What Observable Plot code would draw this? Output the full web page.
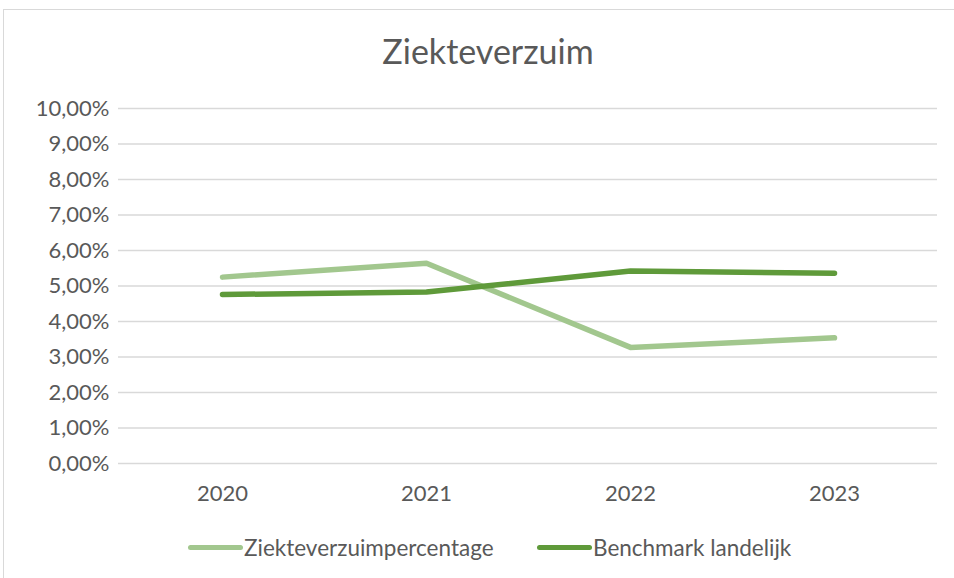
<!DOCTYPE html>
<html>
<head>
<meta charset="utf-8">
<script src="https://cdn.jsdelivr.net/npm/d3@7"></script>
<script src="https://cdn.jsdelivr.net/npm/@observablehq/plot@0.6"></script>
<style>
  html, body { margin: 0; padding: 0; background: #fff; }
  #wrap { position: relative; width: 954px; height: 578px; overflow: hidden; font-family: Lato, "Open Sans", sans-serif; }
  #frame { position: absolute; left: 3px; top: 9px; width: 1000px; height: 1000px; border: 1px solid #D9D9D9; box-sizing: border-box; }
  #title { position: absolute; left: 0; width: 976px; top: 30px; text-align: center; font-size: 34px; color: #595959; }
  #legend { position: absolute; top: 534px; left: 0; width: 954px; font-size: 22.5px; color: #595959; }
  .item { position: absolute; display: flex; align-items: center; }
  .sw { width: 55px; height: 5px; border-radius: 3px; margin-right: 1px; }
  #chart { position: absolute; left: 0; top: 0; }
</style>
</head>
<body>
<div id="wrap">
  <div id="frame"></div>
  <div id="chart"></div>
  <div id="title">Ziekteverzuim</div>
  <div id="legend"></div>
</div>
<script>
const years = ["2020", "2021", "2022", "2023"];
const ziekteverzuim = [5.25, 5.64, 3.27, 3.54];
const benchmark = [4.76, 4.83, 5.42, 5.36];
const yTicks = [0, 1, 2, 3, 4, 5, 6, 7, 8, 9, 10];
const seriesNames = ["Ziekteverzuimpercentage", "Benchmark landelijk"];
const seriesColors = ["#A2C78E", "#5F9A3A"];

const data = [];
years.forEach((y, i) => data.push({year: y, value: ziekteverzuim[i], series: seriesNames[0]}));
years.forEach((y, i) => data.push({year: y, value: benchmark[i], series: seriesNames[1]}));

const fmt = d => d.toFixed(2).replace(".", ",") + "%";

const plot = Plot.plot({
  width: 954,
  height: 578,
  marginTop: 108,
  marginBottom: 115,
  marginLeft: 118,
  marginRight: 17,
  style: { fontFamily: "Lato, 'Open Sans', sans-serif", fontSize: "22px", color: "#595959", background: "transparent" },
  x: { type: "point", domain: years, padding: 0.5, label: null, tickSize: 0, tickPadding: 22 },
  y: { domain: [0, 10], ticks: yTicks, tickFormat: fmt, label: null, tickSize: 0, tickPadding: 9 },
  color: { domain: seriesNames, range: seriesColors },
  marks: [
    Plot.ruleY(yTicks, { stroke: "#D9D9D9", strokeWidth: 1.3 }),
    Plot.axisX({ tickSize: 0, tickPadding: 22, label: null, fill: "#595959" }),
    Plot.axisY({ ticks: yTicks, tickFormat: fmt, tickSize: 0, tickPadding: 9, label: null, fill: "#595959" }),
    Plot.line(data, { x: "year", y: "value", z: "series", stroke: "series", strokeWidth: 5.5, strokeLinecap: "round", strokeLinejoin: "round" })
  ]
});
document.getElementById("chart").appendChild(plot);

const legend = document.getElementById("legend");
const lefts = [188, 537];
seriesNames.forEach((name, i) => {
  const it = document.createElement("div");
  it.className = "item";
  it.style.left = lefts[i] + "px";
  const sw = document.createElement("span");
  sw.className = "sw";
  sw.style.background = seriesColors[i];
  const tx = document.createElement("span");
  tx.textContent = name;
  it.appendChild(sw);
  it.appendChild(tx);
  legend.appendChild(it);
});
</script>
</body>
</html>
